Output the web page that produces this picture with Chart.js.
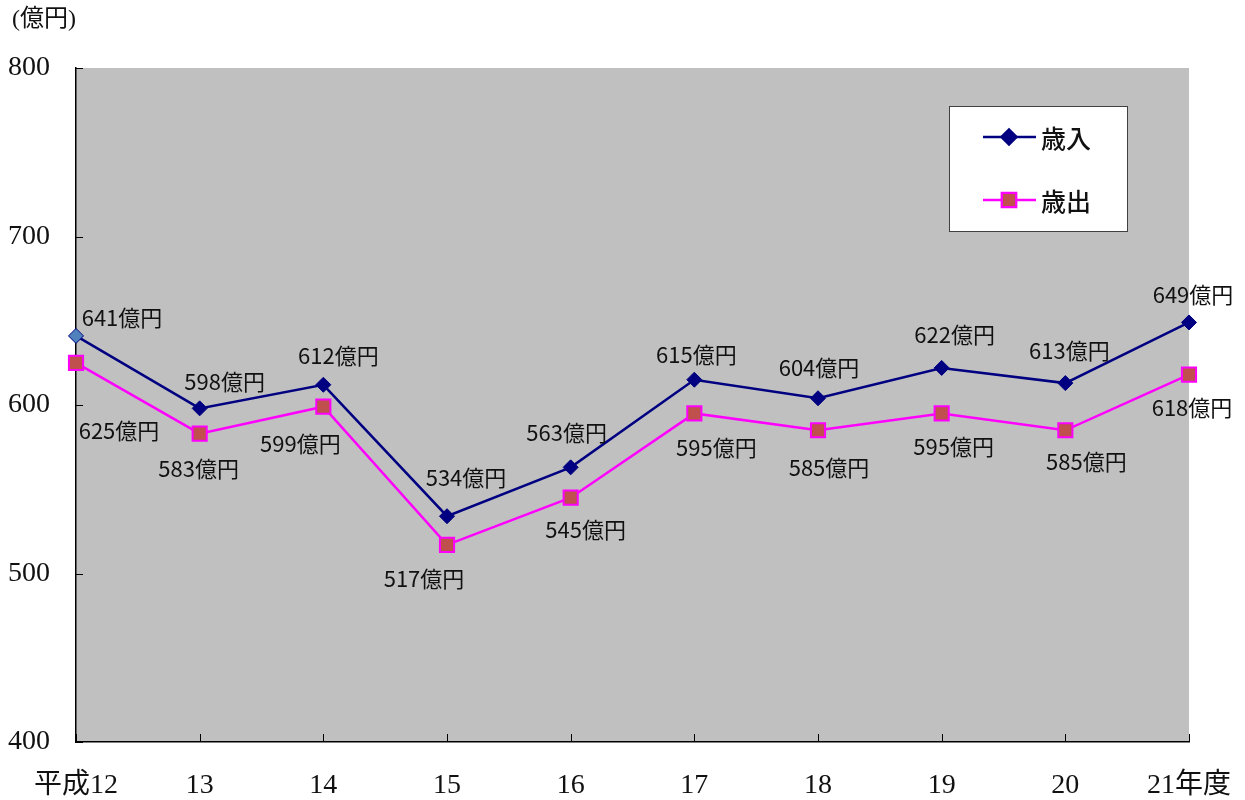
<!DOCTYPE html>
<html lang="ja">
  <head>
    <meta charset="UTF-8" />
    <title>歳入・歳出の推移</title>
    <script src="https://cdn.jsdelivr.net/npm/chart.js"></script>
    <style>
      html, body { margin: 0; padding: 0; background: #ffffff; }
      #wrap { width: 1245px; height: 800px; }
    </style>
  </head>
  <body>
    <div id="wrap"><canvas id="mychart" width="1245" height="800"></canvas></div>
    <script>
      // 年度と金額（億円）
      const years = ["平成12", "13", "14", "15", "16", "17", "18", "19", "20", "21年度"];
      const revenue = [641, 598, 612, 534, 563, 615, 604, 622, 613, 649];
      const expenditure = [625, 583, 599, 517, 545, 595, 585, 595, 585, 618];
      const yMin = 400;
      const yMax = 800;
      const yStep = 100;
      const unitLabel = "(億円)";

      const labelFont = "22px 'Noto Sans CJK JP', sans-serif";
      const axisFont = { family: "'Liberation Serif', 'Noto Sans CJK JP', serif", size: 28 };

      // ラベルの位置（点からのずらし量）
      const revenueLabelShift = [[46, -18], [25, -27], [15, -29], [19, -39], [-4, -35], [2, -25], [1, -31], [13, -33], [4, -32], [4, -28]];
      const expenditureLabelShift = [[43, 68], [-1, 35], [-23, 37], [-23, 34], [15, 32], [22, 34], [11, 37], [12, 33], [21, 31], [3, 33]];

      const plotBackground = {
        id: "plotBackground",
        beforeDraw(chart) {
          const { ctx, chartArea: a } = chart;
          ctx.save();
          ctx.fillStyle = "#c0c0c0";
          ctx.fillRect(a.left, a.top, a.right - a.left, a.bottom - a.top);
          ctx.restore();
        },
      };

      // 内向きの目盛り線
      const innerTicks = {
        id: "innerTicks",
        afterDraw(chart) {
          const { ctx, chartArea: a, scales } = chart;
          ctx.save();
          ctx.strokeStyle = "#000000";
          ctx.lineWidth = 1;
          ctx.beginPath();
          scales.y.ticks.forEach((t) => {
            const y = Math.round(scales.y.getPixelForValue(t.value)) + 0.5;
            ctx.moveTo(a.left, y);
            ctx.lineTo(a.left + 7, y);
          });
          years.forEach((_, i) => {
            const x = Math.round(scales.x.getPixelForValue(i)) + 0.5;
            ctx.moveTo(x, a.bottom - 1);
            ctx.lineTo(x, a.bottom - 8);
          });
          ctx.stroke();
          ctx.restore();
        },
      };

      const valueLabels = {
        id: "valueLabels",
        afterDatasetsDraw(chart) {
          const { ctx } = chart;
          const shifts = [revenueLabelShift, expenditureLabelShift];
          ctx.save();
          ctx.font = labelFont;
          ctx.fillStyle = "#111111";
          ctx.textAlign = "center";
          ctx.textBaseline = "middle";
          chart.data.datasets.forEach((ds, di) => {
            chart.getDatasetMeta(di).data.forEach((pt, i) => {
              const [dx, dy] = shifts[di][i];
              ctx.fillText(ds.data[i] + "億円", pt.x + dx, pt.y + dy);
            });
          });
          ctx.restore();
        },
      };

      const boxLegend = {
        id: "boxLegend",
        afterDraw(chart) {
          const { ctx } = chart;
          const left = 949, top = 106, w = 178, h = 125;
          ctx.save();
          ctx.fillStyle = "#ffffff";
          ctx.fillRect(left, top, w, h);
          ctx.strokeStyle = "#404040";
          ctx.lineWidth = 1;
          ctx.strokeRect(left + 0.5, top + 0.5, w, h);
          chart.data.datasets.forEach((ds, i) => {
            const y = top + 31 + i * 63;
            ctx.strokeStyle = ds.borderColor;
            ctx.lineWidth = ds.borderWidth;
            ctx.beginPath();
            ctx.moveTo(983, y);
            ctx.lineTo(1036, y);
            ctx.stroke();
            Chart.helpers.drawPoint(ctx, {
              pointStyle: ds.pointStyle,
              radius: ds.pointRadius,
              borderWidth: ds.pointBorderWidth,
              rotation: 0,
            }, 1009, y);
            ctx.fillStyle = ds.legendFill;
            ctx.strokeStyle = ds.pointBorderColor;
            ctx.lineWidth = ds.pointBorderWidth;
            ctx.fill();
            if (ds.pointBorderWidth > 0) ctx.stroke();
            ctx.fillStyle = "#111111";
            ctx.font = "500 25px 'Noto Sans CJK JP', sans-serif";
            ctx.textAlign = "left";
            ctx.textBaseline = "middle";
            ctx.fillText(ds.label, 1041, y + 1);
          });
          ctx.restore();
        },
      };

      const unitTitle = {
        id: "unitTitle",
        afterDraw(chart) {
          const { ctx } = chart;
          ctx.save();
          ctx.font = "24px 'Liberation Serif', 'Noto Sans CJK JP', serif";
          ctx.fillStyle = "#111111";
          ctx.textAlign = "left";
          ctx.textBaseline = "middle";
          ctx.fillText(unitLabel, 12, 20);
          ctx.restore();
        },
      };

      const ctx = document.getElementById("mychart").getContext("2d");
      const myChart = new Chart(ctx, {
        type: "line",
        data: {
          labels: years,
          datasets: [
            {
              label: "歳入",
              data: revenue,
              borderColor: "#000080",
              borderWidth: 2.5,
              pointStyle: "rectRot",
              pointRadius: 7.5,
              pointHoverRadius: 7.5,
              pointBackgroundColor: revenue.map((_, i) => (i === 0 ? "#4f81bd" : "#000080")),
              pointBorderColor: "#000080",
              pointBorderWidth: 1,
              legendFill: "#000080",
              tension: 0,
            },
            {
              label: "歳出",
              data: expenditure,
              borderColor: "#ff00ff",
              borderWidth: 2.5,
              pointStyle: "rect",
              pointRadius: 10,
              pointHoverRadius: 10,
              pointBackgroundColor: "#c0504d",
              pointBorderColor: "#ff00ff",
              pointBorderWidth: 2,
              legendFill: "#c0504d",
              tension: 0,
            },
          ],
        },
        options: {
          responsive: false,
          animation: false,
          layout: { padding: { top: 68, right: 56, bottom: 0, left: 0 } },
          plugins: {
            legend: { display: false },
            tooltip: { enabled: false },
          },
          scales: {
            x: {
              offset: false,
              grid: { display: false, drawTicks: false },
              border: { display: true, color: "#000000", width: 1.5 },
              ticks: {
                color: "#111111",
                font: axisFont,
                padding: 27,
                autoSkip: false,
                maxRotation: 0,
              },
              afterFit(scale) {
                scale.height = 58;
                scale.paddingLeft = 0;
                scale.paddingRight = 0;
              },
            },
            y: {
              min: yMin,
              max: yMax,
              grid: { display: false, drawTicks: false },
              border: { display: true, color: "#000000", width: 1.5 },
              ticks: {
                stepSize: yStep,
                color: "#111111",
                font: axisFont,
                padding: 26,
              },
              afterFit(scale) {
                scale.width = 76;
                scale.paddingTop = 0;
                scale.paddingBottom = 0;
              },
            },
          },
        },
        plugins: [plotBackground, innerTicks, valueLabels, boxLegend, unitTitle],
      });
    </script>
  </body>
</html>
